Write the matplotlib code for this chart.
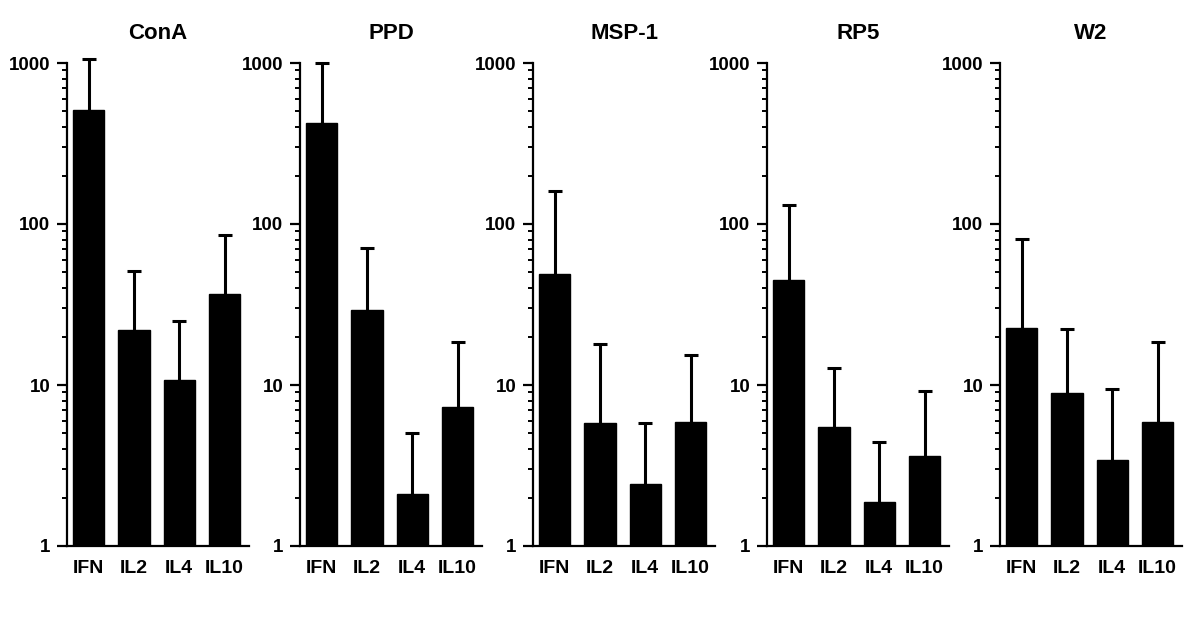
import numpy as np
import matplotlib
matplotlib.use("Agg")
import matplotlib.pyplot as plt
from matplotlib.ticker import FixedLocator, FixedFormatter, NullFormatter

plt.rcParams['font.family'] = ['Liberation Sans', 'DejaVu Sans']
plt.rcParams['font.weight'] = 'bold'

# cytokine groups on the x axis
cytokines = ['IFN', 'IL2', 'IL4', 'IL10']

# one panel per stimulus
stimuli = ['ConA', 'PPD', 'MSP-1', 'RP5', 'W2']

# bar heights (mean) per stimulus, in cytokine order
conA_mean = [512, 22, 10.7, 37]
ppd_mean = [425, 29.4, 2.1, 7.3]
msp1_mean = [49, 5.8, 2.43, 5.9]
rp5_mean = [44.7, 5.5, 1.87, 3.6]
w2_mean = [22.6, 8.9, 3.43, 5.9]

# top of the error bar (mean + error) per stimulus
conA_top = [1060, 51, 25, 85]
ppd_top = [995, 71, 5.0, 18.4]
msp1_top = [161, 18, 5.8, 15.4]
rp5_top = [132, 12.7, 4.4, 9.2]
w2_top = [81, 22.3, 9.4, 18.6]

means = [conA_mean, ppd_mean, msp1_mean, rp5_mean, w2_mean]
tops = [conA_top, ppd_top, msp1_top, rp5_top, w2_top]

W, H = 1200, 641
fig = plt.figure(figsize=(W / 100, H / 100), dpi=100)

lefts = [67, 300, 533, 767, 1000]
ax_w = 182
ax_bottom = 546
ax_top = 63

for i, name in enumerate(stimuli):
    ax = fig.add_axes([lefts[i] / W, (H - ax_bottom) / H,
                       ax_w / W, (ax_bottom - ax_top) / H])
    x = np.arange(len(cytokines))
    m = np.array(means[i])
    t = np.array(tops[i])

    ax.bar(x, m, width=0.69, color='black', edgecolor='black', zorder=2)
    eb = ax.errorbar(x, m, yerr=[np.zeros_like(m), t - m], fmt='none',
                     ecolor='black', elinewidth=2.2, capsize=4.8,
                     capthick=2.2, zorder=1, clip_on=False)
    # only keep the upper cap (one-sided error bars)
    for cap in eb[1]:
        if np.allclose(cap.get_ydata(), m):
            cap.set_visible(False)

    ax.set_yscale('log')
    ax.set_ylim(1, 1000)
    ax.set_xlim(-0.48, 3.54)

    ax.yaxis.set_major_locator(FixedLocator([1, 10, 100, 1000]))
    ax.yaxis.set_major_formatter(FixedFormatter(['1', '10', '100', '1000']))
    minors = [k * 10 ** d for d in range(3) for k in range(2, 10)]
    ax.yaxis.set_minor_locator(FixedLocator(minors))
    ax.yaxis.set_minor_formatter(NullFormatter())

    ax.set_xticks(x)
    ax.set_xticklabels(cytokines, fontsize=14, fontweight='bold')
    ax.tick_params(axis='x', length=0, pad=10)
    ax.tick_params(axis='y', which='major', length=7, width=1.6,
                   labelsize=13.5, pad=5)
    ax.tick_params(axis='y', which='minor', length=3.5, width=1.4)
    for lab in ax.get_yticklabels():
        lab.set_fontweight('bold')

    for s in ['top', 'right']:
        ax.spines[s].set_visible(False)
    for s in ['left', 'bottom']:
        ax.spines[s].set_linewidth(1.6)

    ax.set_title(name, fontsize=16, fontweight='bold', pad=17)

fig.savefig('out.png', dpi=100, facecolor='white')
